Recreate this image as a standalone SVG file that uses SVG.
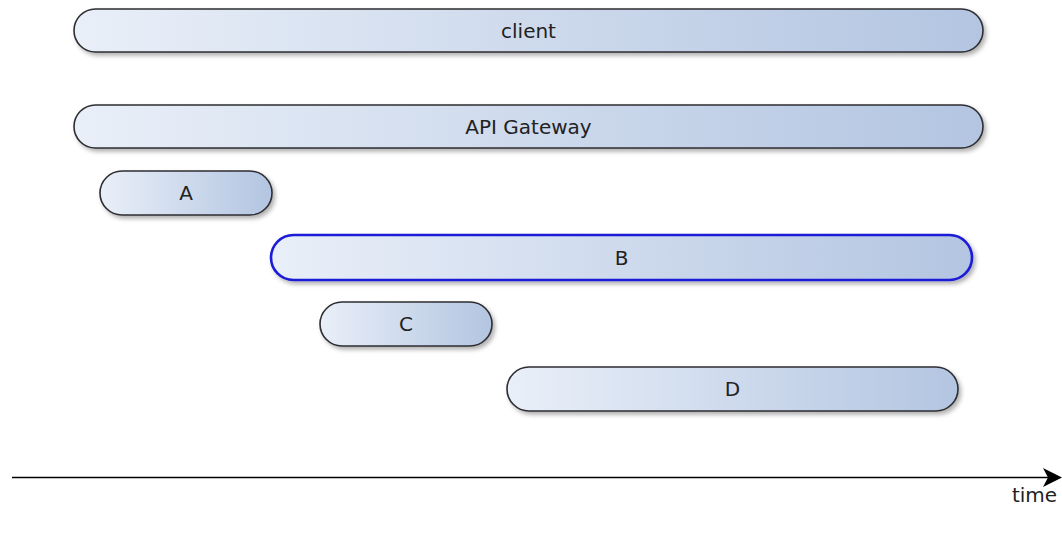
<svg xmlns="http://www.w3.org/2000/svg" width="1062" height="533" viewBox="0 0 1062 533">
  <defs>
    <linearGradient id="fill" x1="0" y1="0" x2="1" y2="0">
      <stop offset="0" stop-color="#e9eff8"/>
      <stop offset="1" stop-color="#b3c5e1"/>
    </linearGradient>
    <filter id="shadow" x="-5%" y="-30%" width="110%" height="170%">
      <feDropShadow dx="2.5" dy="3" stdDeviation="2" flood-color="#000" flood-opacity="0.3"/>
    </filter>
    <marker id="arrow" markerWidth="20" markerHeight="20" refX="14" refY="9.5" orient="auto" markerUnits="userSpaceOnUse">
      <path d="M0,0 L19,9.5 L0,19 L5,9.5 Z" fill="#000"/>
    </marker>
    <style>
      .bar { fill: url(#fill); stroke: #2e2e33; stroke-width: 1.6; filter: url(#shadow); }
      .sel { stroke: #1a1ad6; stroke-width: 2.6; }
      .lbl { font-family: "DejaVu Sans", sans-serif; font-size: 20px; fill: #222; text-anchor: middle; }
      .axis { stroke: #000; stroke-width: 1.6; fill: none; }
    </style>
  </defs>
  <rect width="1062" height="533" fill="#fff"/>

  <g id="client">
    <rect class="bar" x="74" y="9" width="909" height="43" rx="21.5"/>
    <text class="lbl" x="528.5" y="37.5">client</text>
  </g>
  <g id="api-gateway">
    <rect class="bar" x="74" y="105" width="909" height="43" rx="21.5"/>
    <text class="lbl" x="528.5" y="133.5">API Gateway</text>
  </g>
  <g id="A">
    <rect class="bar" x="100" y="171" width="172" height="44" rx="22"/>
    <text class="lbl" x="186" y="200">A</text>
  </g>
  <g id="B">
    <rect class="bar sel" x="271" y="235" width="701" height="45" rx="22.5"/>
    <text class="lbl" x="621.5" y="264.5">B</text>
  </g>
  <g id="C">
    <rect class="bar" x="320" y="302" width="172" height="44" rx="22"/>
    <text class="lbl" x="406" y="331">C</text>
  </g>
  <g id="D">
    <rect class="bar" x="507" y="367" width="451" height="44" rx="22"/>
    <text class="lbl" x="732.5" y="396">D</text>
  </g>

  <g id="connectors">
    <line class="axis" x1="12" y1="477.5" x2="1057" y2="477.5" marker-end="url(#arrow)"/>
  </g>
  <g id="axis-label">
    <text class="lbl" x="1034.5" y="502">time</text>
  </g>
</svg>
